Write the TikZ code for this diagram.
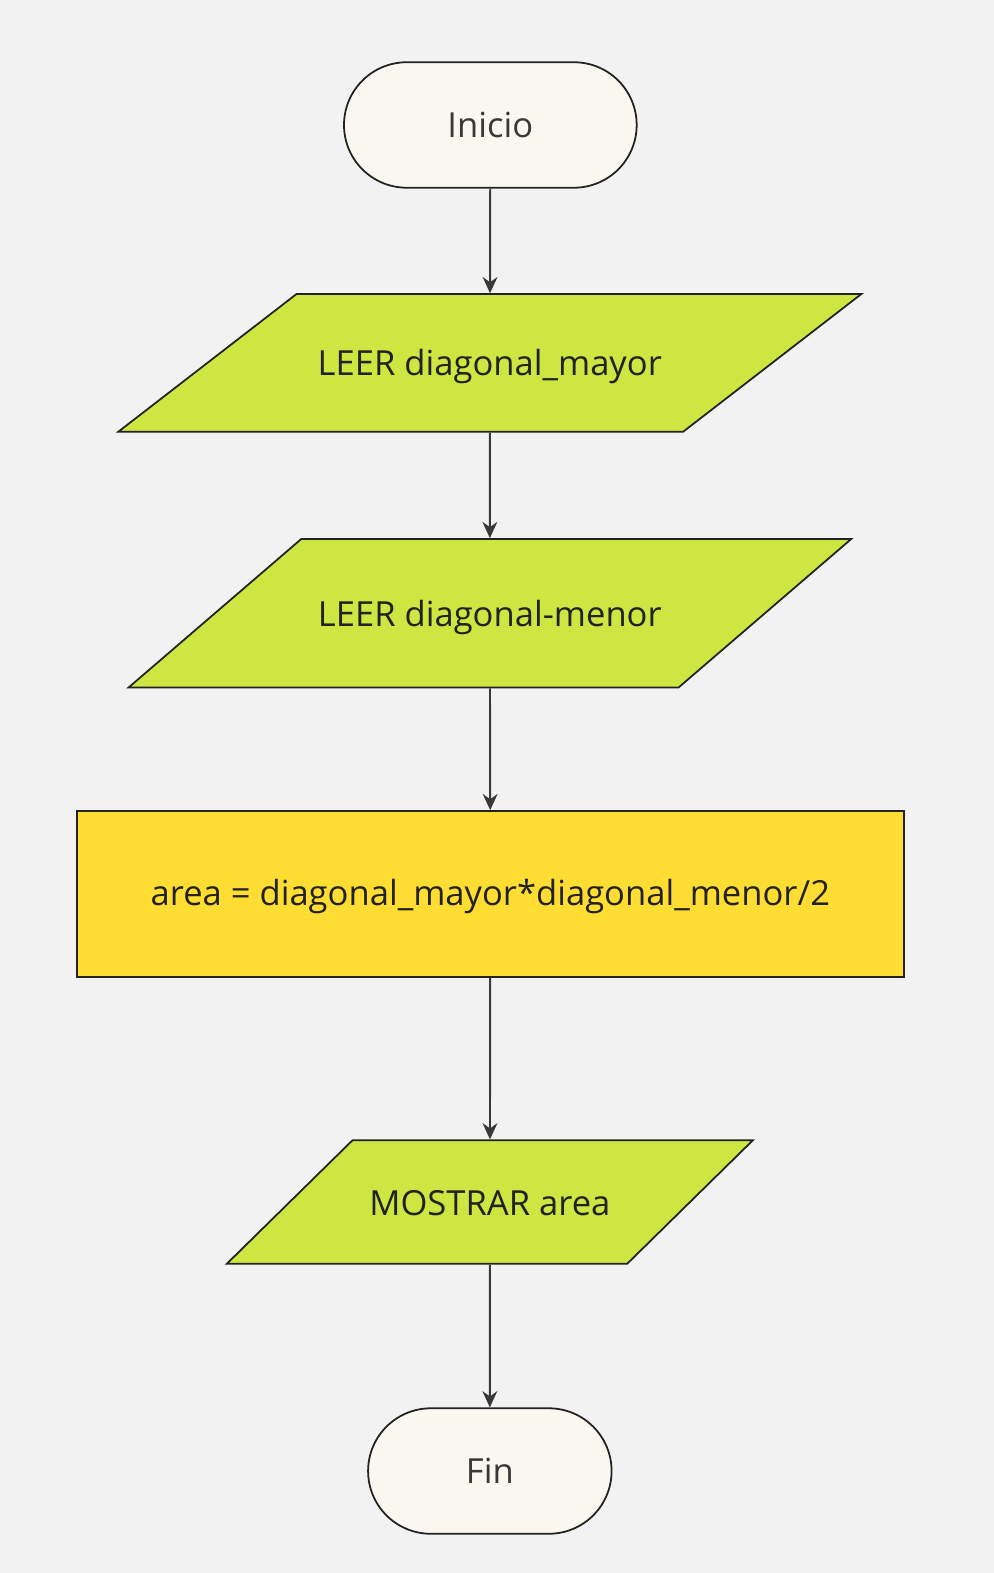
\documentclass[tikz,border=0pt]{standalone}
\usepackage{fontspec}
\setmainfont{Open Sans}
\usetikzlibrary{arrows.meta,shapes.geometric,shapes.misc}
\definecolor{canvas}{RGB}{242, 242, 242}
\definecolor{cream}{RGB}{250, 247, 240}
\definecolor{lime}{RGB}{205, 230, 66}
\definecolor{sun}{RGB}{255, 221, 51}
\definecolor{ink}{RGB}{34, 34, 34}
\definecolor{slate}{RGB}{56, 56, 56}

\begin{document}
\begin{tikzpicture}[
        terminal/.style={rounded rectangle, draw=ink, line width=0.5pt, fill=cream,
                         text=slate, minimum height=1.25cm, font=\fontsize{9.8}{11}\selectfont},
        io/.style={trapezium, trapezium stretches body=true, draw=ink, line width=0.5pt,
                   fill=lime, text=ink, text height=2.85mm, text depth=0.25mm,
                   font=\fontsize{9.8}{11}\selectfont},
        process/.style={rectangle, draw=ink, line width=0.5pt, fill=sun,
                        text=ink, text height=2.7mm, text depth=0.4mm,
                        font=\fontsize{9.8}{11}\selectfont},
        flow/.style={-{Stealth[length=4.6pt,width=4.2pt]}, slate, line width=0.55pt}
    ]
            % Frame and background
            \useasboundingbox                                                 (0.00, 0.00) rectangle (9.893,-15.671);
            \fill[canvas]                                                     (-0.20, 0.20) rectangle (10.20,-16.00);
            % Start
            \node[terminal, minimum width=3.15cm]                      (inicio) at (4.885, -1.245) {Inicio};
            % Inputs
            \node[io, minimum width=7.40cm, inner ysep=5.3mm,
                  trapezium left angle=37.7, trapezium right angle=142.3] (leermayor) at (4.880, -3.615) {LEER diagonal\_mayor};
            \node[io, minimum width=7.20cm, inner ysep=5.85mm,
                  trapezium left angle=40.7, trapezium right angle=139.3] (leermenor) at (4.880, -6.110) {LEER diagonal-menor};
            % Calculation
            \node[process, minimum width=8.24cm, minimum height=1.65cm] (area) at (4.885, -8.905) {area = diagonal\_mayor*diagonal\_menor/2};
            % Output
            \node[io, minimum width=5.24cm, inner ysep=4.6mm,
                  trapezium left angle=44.5, trapezium right angle=135.5] (mostrar) at (4.880,-11.975) {MOSTRAR area};
            % End
            \node[terminal, minimum width=2.66cm]                      (fin) at (4.880,-14.655) {Fin};
            % Connectors
            \draw[flow] (inicio)    -- (leermayor);
            \draw[flow] (leermayor) -- (leermenor);
            \draw[flow] (leermenor) -- (area);
            \draw[flow] (area)      -- (mostrar);
            \draw[flow] (mostrar)   -- (fin);
        \end{tikzpicture}
\end{document}
